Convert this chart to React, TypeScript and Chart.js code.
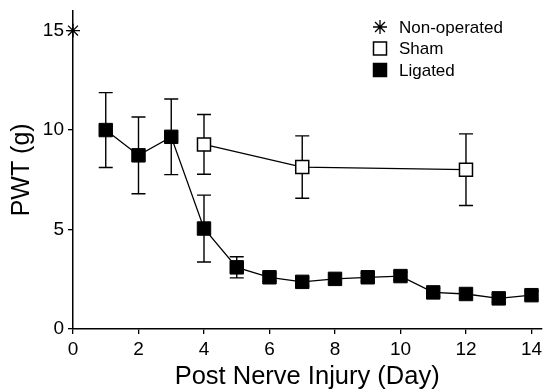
import React, { useEffect, useRef } from 'react';
import { Chart, registerables } from 'chart.js';

Chart.register(...registerables);

// ---- Data ----
const ligatedDays = [1, 2, 3, 4, 5, 6, 7, 8, 9, 10, 11, 12, 13, 14];
const ligatedPWT = [10.0, 8.73, 9.66, 5.05, 3.1, 2.6, 2.37, 2.52, 2.6, 2.66, 1.84, 1.76, 1.54, 1.7];
const ligatedSEM = [1.88, 1.93, 1.9, 1.68, 0.53, 0.2, 0.2, 0.2, 0.2, 0.2, 0.2, 0.2, 0.2, 0.2];

const shamDays = [4, 7, 12];
const shamPWT = [9.28, 8.14, 8.01];
const shamSEM = [1.5, 1.57, 1.8];

const nonOperatedDays = [0];
const nonOperatedPWT = [15];

const xTickValues = [0, 2, 4, 6, 8, 10, 12, 14];
const yTickValues = [0, 5, 10, 15];

const seriesNames = ['Non-operated', 'Sham', 'Ligated'];
const xTitle = 'Post Nerve Injury (Day)';
const yTitle = 'PWT (g)';

const FONT = "'Liberation Sans', Arial, Helvetica, sans-serif";

const errorBarPlugin = {
  id: 'errorBars',
  beforeDatasetsDraw(chart: any) {
    const ctx = chart.ctx;
    const xs = chart.scales.x;
    const ys = chart.scales.y;
    ctx.save();
    ctx.strokeStyle = '#000';
    ctx.lineWidth = 1.4;
    chart.data.datasets.forEach((ds: any) => {
      if (!ds.sem) return;
      ds.data.forEach((pt: any, i: number) => {
        const e = ds.sem[i];
        if (!e) return;
        const x = xs.getPixelForValue(pt.x);
        const yt = ys.getPixelForValue(pt.y + e);
        const yb = ys.getPixelForValue(pt.y - e);
        const cap = 7;
        ctx.beginPath();
        ctx.moveTo(x, yt);
        ctx.lineTo(x, yb);
        ctx.moveTo(x - cap, yt);
        ctx.lineTo(x + cap, yt);
        ctx.moveTo(x - cap, yb);
        ctx.lineTo(x + cap, yb);
        ctx.stroke();
      });
    });
    ctx.restore();
  },
};

function drawMarker(ctx: CanvasRenderingContext2D, style: string, x: number, y: number, filled: boolean) {
  ctx.save();
  ctx.strokeStyle = '#000';
  ctx.fillStyle = filled ? '#000' : '#fff';
  if (style === 'star') {
    const r = 7;
    ctx.lineWidth = 1.3;
    ctx.beginPath();
    for (let k = 0; k < 4; k++) {
      const a = (k * Math.PI) / 4;
      ctx.moveTo(x - Math.sin(a) * r, y - Math.cos(a) * r);
      ctx.lineTo(x + Math.sin(a) * r, y + Math.cos(a) * r);
    }
    ctx.stroke();
  } else {
    const h = 6.5;
    ctx.lineWidth = 1.5;
    ctx.beginPath();
    ctx.rect(x - h, y - h, 2 * h, 2 * h);
    ctx.fill();
    ctx.stroke();
  }
  ctx.restore();
}

const legendPlugin = {
  id: 'customLegend',
  afterDraw(chart: any) {
    const ctx = chart.ctx;
    const styles = ['star', 'rect', 'rect'];
    const fills = [false, false, true];
    const rowY = [27, 48.5, 70];
    ctx.save();
    ctx.font = `17px ${FONT}`;
    ctx.textBaseline = 'middle';
    ctx.textAlign = 'left';
    seriesNames.forEach((name, i) => {
      drawMarker(ctx, styles[i], 380, rowY[i], fills[i]);
      ctx.fillStyle = '#000';
      ctx.fillText(name, 399, rowY[i] + 1);
    });
    ctx.restore();
  },
};

export default function App() {
  const canvasRef = useRef<HTMLCanvasElement | null>(null);

  useEffect(() => {
    if (!canvasRef.current) return;
    const toPts = (xs: number[], ys: number[]) => xs.map((x, i) => ({ x, y: ys[i] }));
    const chart = new Chart(canvasRef.current, {
      type: 'line',
      data: {
        datasets: [
          {
            label: seriesNames[0],
            data: toPts(nonOperatedDays, nonOperatedPWT),
            showLine: false,
            pointStyle: 'star',
            pointRadius: 7,
            pointBorderWidth: 1.3,
            pointBorderColor: '#000',
            pointBackgroundColor: '#000',
            borderColor: '#000',
            clip: false,
          } as any,
          {
            label: seriesNames[1],
            data: toPts(shamDays, shamPWT),
            sem: shamSEM,
            borderColor: '#000',
            borderWidth: 1.3,
            pointStyle: 'rect',
            pointRadius: 9.2,
            pointBorderWidth: 1.5,
            pointBorderColor: '#000',
            pointBackgroundColor: '#fff',
            fill: false,
            clip: false,
          } as any,
          {
            label: seriesNames[2],
            data: toPts(ligatedDays, ligatedPWT),
            sem: ligatedSEM,
            borderColor: '#000',
            borderWidth: 1.3,
            pointStyle: 'rect',
            pointRadius: 9.5,
            pointBorderWidth: 1,
            pointBorderColor: '#000',
            pointBackgroundColor: '#000',
            fill: false,
            clip: false,
          } as any,
        ],
      },
      options: {
        responsive: false,
        animation: false,
        devicePixelRatio: 1,
        layout: { padding: { top: 10, right: 4, bottom: 0, left: 0 } },
        plugins: {
          legend: { display: false },
          tooltip: { enabled: false },
        },
        scales: {
          x: {
            type: 'linear',
            min: 0,
            max: 14.3,
            afterBuildTicks: (s: any) => {
              s.ticks = xTickValues.map((v) => ({ value: v }));
            },
            afterFit: (s: any) => {
              s.height = 63;
              s.paddingLeft = 0;
              s.paddingRight = 0;
            },
            ticks: {
              color: '#000',
              font: { size: 19, family: FONT },
              padding: 4,
              maxRotation: 0,
              autoSkip: false,
              includeBounds: false,
            },
            grid: {
              display: true,
              drawOnChartArea: false,
              drawTicks: true,
              tickLength: 5,
              color: '#000',
              lineWidth: 1.3,
            },
            border: { display: true, color: '#000', width: 1.5 },
            title: {
              display: true,
              text: xTitle,
              color: '#000',
              font: { size: 25.5, family: FONT },
              padding: { top: 0, bottom: 0 },
            },
          },
          y: {
            type: 'linear',
            min: 0,
            max: 16,
            afterBuildTicks: (s: any) => {
              s.ticks = yTickValues.map((v) => ({ value: v }));
            },
            afterFit: (s: any) => {
              s.width = 73;
              s.paddingTop = 0;
              s.paddingBottom = 0;
            },
            ticks: {
              color: '#000',
              font: { size: 19, family: FONT },
              padding: 4,
              autoSkip: false,
              includeBounds: false,
            },
            grid: {
              display: true,
              drawOnChartArea: false,
              drawTicks: true,
              tickLength: 5,
              color: '#000',
              lineWidth: 1.3,
            },
            border: { display: true, color: '#000', width: 1.5 },
            title: {
              display: true,
              text: yTitle,
              color: '#000',
              font: { size: 25, family: FONT },
              padding: { top: 7, bottom: 0 },
            },
          },
        },
      } as any,
      plugins: [errorBarPlugin, legendPlugin],
    });
    return () => chart.destroy();
  }, []);

  return (
    <div style={{ position: 'absolute', left: 0, top: 0, width: 552, height: 392, background: '#fff' }}>
      <canvas ref={canvasRef} width={552} height={392} style={{ display: 'block' }} />
    </div>
  );
}
